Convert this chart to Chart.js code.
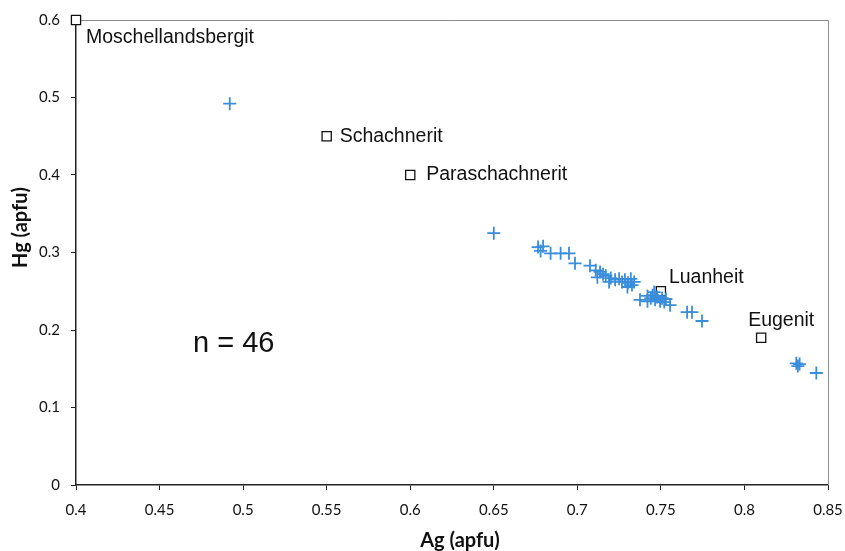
<!DOCTYPE html>
<html>
<head>
<meta charset="utf-8">
<script src="https://cdn.jsdelivr.net/npm/chart.js@4.4.1/dist/chart.umd.min.js"></script>
<style>
  html, body { margin: 0; padding: 0; background: #fff; }
  #wrap { width: 845px; height: 551px; }
</style>
</head>
<body>
<div id="wrap"><canvas id="c" width="845" height="551"></canvas></div>
<script>
// Measured analyses (Ag, Hg in apfu)
const agValues = [0.492, 0.650, 0.6765, 0.6795, 0.678, 0.684, 0.690, 0.695, 0.6986, 0.7076,
  0.711, 0.712, 0.7136, 0.7154, 0.717, 0.719, 0.720, 0.7226, 0.725, 0.7267,
  0.7285, 0.7303, 0.732, 0.7327, 0.734, 0.730, 0.7375, 0.742, 0.744, 0.745,
  0.7465, 0.7477, 0.7495, 0.7507, 0.752, 0.753, 0.7555, 0.746, 0.7657, 0.7686,
  0.7746, 0.831, 0.832, 0.833, 0.843, 0.742];
const hgValues = [0.492, 0.325, 0.307, 0.308, 0.302, 0.299, 0.299, 0.299, 0.286, 0.283,
  0.277, 0.268, 0.275, 0.272, 0.270, 0.262, 0.267, 0.265, 0.266, 0.262,
  0.265, 0.261, 0.266, 0.258, 0.262, 0.2555, 0.239, 0.244, 0.241, 0.245,
  0.239, 0.2426, 0.237, 0.241, 0.236, 0.240, 0.232, 0.249, 0.223, 0.223,
  0.2116, 0.157, 0.1535, 0.156, 0.1445, 0.237];

// Reference minerals
const mineralNames = ['Moschellandsbergit', 'Schachnerit', 'Paraschachnerit', 'Luanheit', 'Eugenit'];
const mineralAg = [0.40, 0.55, 0.60, 0.75, 0.81];
const mineralHg = [0.60, 0.45, 0.40, 0.25, 0.19];

const xTicks = [0.4, 0.45, 0.5, 0.55, 0.6, 0.65, 0.7, 0.75, 0.8, 0.85];
const yTicks = [0, 0.1, 0.2, 0.3, 0.4, 0.5, 0.6];
const xTitle = 'Ag (apfu)';
const yTitle = 'Hg (apfu)';
const nLabel = 'n = 46';

const measured = agValues.map((x, i) => ({ x: x, y: hgValues[i] }));
const minerals = mineralAg.map((x, i) => ({ x: x, y: mineralHg[i] }));

const tickFont = { family: "Lato, 'Open Sans', sans-serif", size: 15 };

// label placement offsets (style, not data)
const labelOffsets = [
  { dx: 10, dy: 18 },
  { dx: 13, dy: 0 },
  { dx: 16, dy: 0 },
  { dx: 8, dy: -14 },
  { dx: -13, dy: -17 }
];

const framePlugin = {
  id: 'frame',
  beforeDatasetsDraw(chart) {
    const { ctx, chartArea: a } = chart;
    ctx.save();
    ctx.strokeStyle = '#8c8c8c';
    ctx.lineWidth = 1;
    ctx.beginPath();
    ctx.moveTo(a.left, a.top + 0.5);
    ctx.lineTo(a.right + 0.5, a.top + 0.5);
    ctx.lineTo(a.right + 0.5, a.bottom);
    ctx.stroke();
    ctx.restore();
  }
};

const labelPlugin = {
  id: 'mineralLabels',
  afterDatasetsDraw(chart) {
    const { ctx, scales, chartArea: a } = chart;
    ctx.save();
    ctx.fillStyle = '#111';
    ctx.font = "19.5px 'Liberation Sans', Arial, sans-serif";
    ctx.textBaseline = 'middle';
    ctx.textAlign = 'left';
    mineralNames.forEach((name, i) => {
      const px = scales.x.getPixelForValue(mineralAg[i]);
      const py = scales.y.getPixelForValue(mineralHg[i]);
      const o = labelOffsets[i];
      ctx.fillText(name, px + o.dx, py + o.dy);
    });
    ctx.font = "29px 'Liberation Sans', Arial, sans-serif";
    ctx.fillText(nLabel, scales.x.getPixelForValue(0.47), scales.y.getPixelForValue(0.182));

    // axis titles
    ctx.font = "bold 20px Lato, 'Open Sans', sans-serif";
    ctx.textAlign = 'center';
    ctx.fillText(xTitle, (a.left + a.right) / 2 + 8, 541);
    ctx.translate(21, (a.top + a.bottom) / 2 - 25);
    ctx.rotate(-Math.PI / 2);
    ctx.fillText(yTitle, 0, 0);
    ctx.restore();
  }
};

function noEdgePadding(axis) {
  axis.paddingLeft = 0;
  axis.paddingRight = 0;
  axis.paddingTop = 0;
  axis.paddingBottom = 0;
}

new Chart(document.getElementById('c'), {
  type: 'scatter',
  data: {
    datasets: [
      {
        label: 'Analysen',
        data: measured,
        pointStyle: 'cross',
        radius: 6.5,
        hoverRadius: 6.5,
        borderWidth: 1.8,
        borderColor: '#3a8ddb',
        backgroundColor: '#3a8ddb',
        clip: false
      },
      {
        label: 'Minerale',
        data: minerals,
        pointStyle: 'rect',
        radius: 6.5,
        hoverRadius: 6.5,
        borderWidth: 1.3,
        borderColor: '#111',
        backgroundColor: '#fff',
        clip: false
      }
    ]
  },
  options: {
    responsive: false,
    animation: false,
    layout: { padding: { top: 20, right: 17, left: 0, bottom: 0 } },
    plugins: {
      legend: { display: false },
      tooltip: { enabled: false }
    },
    scales: {
      x: {
        type: 'linear',
        min: 0.4,
        max: 0.85,
        afterBuildTicks(axis) { axis.ticks = xTicks.map(v => ({ value: v })); },
        afterFit(axis) { axis.height = 66; noEdgePadding(axis); },
        grid: { drawOnChartArea: false, drawTicks: true, tickLength: 5, color: '#222', tickWidth: 1 },
        border: { display: true, color: '#222', width: 1.5 },
        ticks: {
          color: '#111',
          font: tickFont,
          padding: 11,
          maxRotation: 0,
          autoSkip: false,
          callback: v => String(+v.toFixed(2))
        },
        title: { display: false }
      },
      y: {
        type: 'linear',
        min: 0,
        max: 0.6,
        afterBuildTicks(axis) { axis.ticks = yTicks.map(v => ({ value: v })); },
        afterFit(axis) { axis.width = 76; noEdgePadding(axis); },
        grid: { drawOnChartArea: false, drawTicks: true, tickLength: 5, color: '#222', tickWidth: 1 },
        border: { display: true, color: '#222', width: 1.5 },
        ticks: {
          color: '#111',
          font: tickFont,
          padding: 11,
          autoSkip: false,
          callback: v => String(+v.toFixed(1))
        },
        title: { display: false }
      }
    }
  },
  plugins: [framePlugin, labelPlugin]
});
</script>
</body>
</html>
